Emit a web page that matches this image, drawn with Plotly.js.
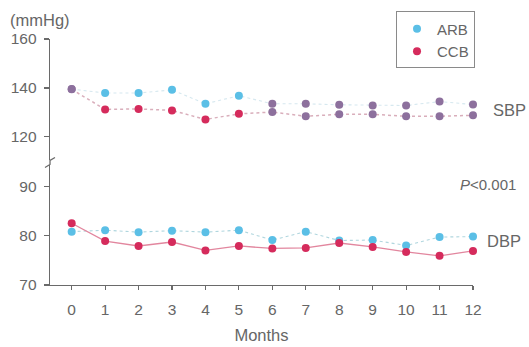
<!DOCTYPE html>
<html>
<head>
<meta charset="utf-8">
<script src="https://cdn.plot.ly/plotly-3.0.1.min.js"></script>
<style>html,body{margin:0;padding:0;background:#fff;}#chart{width:529px;height:347px;}</style>
</head>
<body>
<div id="chart"></div>
<script>
// ---- data ----
const months = [0, 1, 2, 3, 4, 5, 6, 7, 8, 9, 10, 11, 12];
const sbpARB = [139.5, 137.9, 137.9, 139.2, 133.5, 136.8, 133.5, 133.5, 133.1, 132.8, 132.8, 134.4, 133.2];
const sbpCCB = [139.4, 131.2, 131.4, 130.8, 127.1, 129.4, 130.1, 128.4, 129.2, 129.2, 128.4, 128.4, 128.8];
const dbpARB = [80.8, 81.1, 80.7, 81.0, 80.7, 81.1, 79.1, 80.8, 79.0, 79.1, 78.0, 79.7, 79.8];
const dbpCCB = [82.5, 78.9, 77.9, 78.7, 77.0, 77.9, 77.4, 77.5, 78.5, 77.7, 76.7, 75.9, 76.9];
const xTicks = [0, 1, 2, 3, 4, 5, 6, 7, 8, 9, 10, 11, 12];
const sbpTicks = [120, 140, 160];
const dbpTicks = [70, 80, 90];
const seriesNames = ['ARB', 'CCB'];

// ---- style ----
const CYAN = '#5bbfe6';
const RED = '#d52b5c';
const PURPLE = '#8d709d';
const TXT = '#666666';
const FONT = '"Liberation Sans", Arial, Helvetica, sans-serif';
// overlapping SBP points print purple in the reference (month 0 and months 6-12)
const sbpColor = (base) => months.map(m => (m === 0 || m >= 6) ? PURPLE : base);

const traces = [
  {x: months, y: sbpARB, yaxis: 'y2', mode: 'lines', showlegend: false, hoverinfo: 'skip',
   line: {color: '#d6e8ef', width: 1.1, dash: 'dot'}},
  {x: months, y: sbpCCB, yaxis: 'y2', mode: 'lines', showlegend: false, hoverinfo: 'skip',
   line: {color: '#d9aebb', width: 1.5, dash: 'dot'}},
  {x: months, y: dbpARB, yaxis: 'y', mode: 'lines', showlegend: false, hoverinfo: 'skip',
   line: {color: '#b0d6de', width: 1.1, dash: 'dot'}},
  {x: months, y: dbpCCB, yaxis: 'y', mode: 'lines', showlegend: false, hoverinfo: 'skip',
   line: {color: '#e2869e', width: 1.3}},
  {x: months, y: sbpARB, yaxis: 'y2', mode: 'markers', showlegend: false, cliponaxis: false,
   marker: {color: sbpColor(CYAN), size: 8}},
  {x: months, y: sbpCCB, yaxis: 'y2', mode: 'markers', showlegend: false, cliponaxis: false,
   marker: {color: sbpColor(RED), size: 8}},
  {x: months, y: dbpARB, yaxis: 'y', mode: 'markers', name: seriesNames[0], cliponaxis: false,
   marker: {color: CYAN, size: 8}},
  {x: months, y: dbpCCB, yaxis: 'y', mode: 'markers', name: seriesNames[1], cliponaxis: false,
   marker: {color: RED, size: 8}}
];

const axisCommon = {
  showgrid: false, zeroline: false, showline: true, linecolor: '#6a6a6a', linewidth: 1.3,
  ticks: 'outside', tickcolor: '#6a6a6a', tickwidth: 1.2,
  tickfont: {family: FONT, size: 15.5, color: TXT}
};

const layout = {
  width: 529, height: 347,
  margin: {l: 50, r: 56, t: 36, b: 62},
  paper_bgcolor: '#fff', plot_bgcolor: '#fff',
  font: {family: FONT, color: TXT},
  showlegend: true,
  legend: {x: 0.818, y: 1.112, xanchor: 'left', yanchor: 'top', bordercolor: '#8a8a8a', borderwidth: 1,
           bgcolor: '#fff', font: {family: FONT, size: 15, color: TXT}, itemwidth: 30, tracegroupgap: 0},
  xaxis: Object.assign({}, axisCommon, {
    range: [-0.648, 12.0], tickvals: xTicks, ticklen: 4, ticklabelstandoff: 6,
    anchor: 'y', title: {text: 'Months', font: {family: FONT, size: 16.5, color: TXT}, standoff: 12}
  }),
  yaxis: Object.assign({}, axisCommon, {
    domain: [0, 0.486], range: [70, 94.2], tickvals: dbpTicks, ticklen: 5, anchor: 'x', ticklabelstandoff: 4
  }),
  yaxis2: Object.assign({}, axisCommon, {
    domain: [0.51, 1], range: [110.7, 160], tickvals: sbpTicks, ticklen: 5, anchor: 'x', ticklabelstandoff: 4
  }),
  annotations: [
    {text: '(mmHg)', xref: 'paper', yref: 'paper', x: -0.099, y: 1.076, xanchor: 'left', yanchor: 'middle',
     showarrow: false, font: {family: FONT, size: 16.5, color: TXT}},
    {text: 'SBP', xref: 'paper', yref: 'paper', x: 1.042, y: 0.711, xanchor: 'left', yanchor: 'middle',
     showarrow: false, font: {family: FONT, size: 16.5, color: TXT}},
    {text: 'DBP', xref: 'paper', yref: 'paper', x: 1.028, y: 0.177, xanchor: 'left', yanchor: 'middle',
     showarrow: false, font: {family: FONT, size: 16.5, color: TXT}},
    {text: '<i>P</i>&lt;0.001', xref: 'paper', yref: 'paper', x: 0.964, y: 0.41, xanchor: 'left', yanchor: 'middle',
     showarrow: false, font: {family: FONT, size: 15, color: TXT}}
  ],
  shapes: [
    {type: 'path', xref: 'paper', yref: 'paper', xsizemode: 'pixel', ysizemode: 'pixel',
     xanchor: 0, yanchor: 0.498, path: 'M-5,-5 L0,-2 L0,2 L5,5',
     line: {color: '#6a6a6a', width: 1.3}}
  ]
};

Plotly.newPlot('chart', traces, layout, {displayModeBar: false, staticPlot: true});
</script>
</body>
</html>
